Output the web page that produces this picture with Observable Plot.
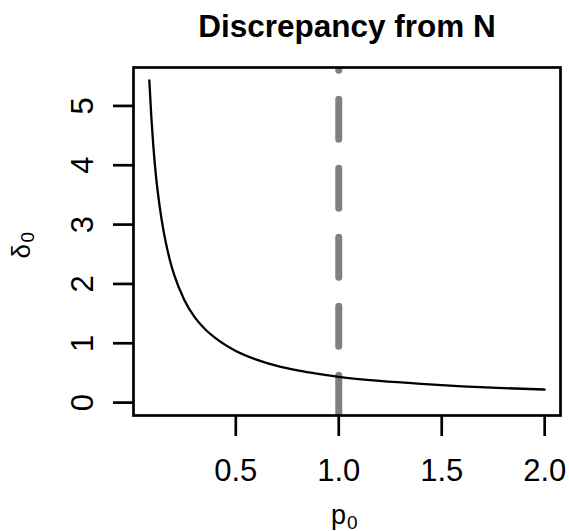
<!DOCTYPE html>
<html>
<head>
<meta charset="utf-8">
<script src="https://cdn.jsdelivr.net/npm/d3@7"></script>
<script src="https://cdn.jsdelivr.net/npm/@observablehq/plot@0.6"></script>
<style>
  html, body { margin: 0; padding: 0; background: #fff; }
</style>
</head>
<body>
<div id="chart"></div>
<script>
// Data
const p0 = [0.08, 0.09, 0.10, 0.11, 0.12, 0.14, 0.16, 0.18, 0.20, 0.25, 0.30, 0.35, 0.40,
            0.50, 0.60, 0.70, 0.80, 0.90, 1.00, 1.20, 1.40, 1.60, 1.80, 2.00];
const delta0 = [5.43, 4.80, 4.30, 3.90, 3.58, 3.08, 2.70, 2.40, 2.16, 1.73, 1.44, 1.24, 1.09,
                0.87, 0.725, 0.62, 0.545, 0.485, 0.435, 0.365, 0.315, 0.275, 0.245, 0.22];
const refLine = [1.0];
const xTicks = [0.5, 1.0, 1.5, 2.0];
const xTickLabels = ["0.5", "1.0", "1.5", "2.0"];
const yTicks = [0, 1, 2, 3, 4, 5];
const yTickLabels = ["0", "1", "2", "3", "4", "5"];
const title = "Discrepancy from N";
const xLabelMain = "p", xLabelSub = "0";
const yLabelMain = "δ", yLabelSub = "0";

const curve = p0.map((x, i) => ({x, y: delta0[i]}));
const xt = xTicks.map((v, i) => ({v, s: xTickLabels[i]}));
const yt = yTicks.map((v, i) => ({v, s: yTickLabels[i]}));

const font = "'Liberation Sans', Arial, Helvetica, sans-serif";

const chart = Plot.plot({
  width: 569,
  height: 531,
  marginLeft: 133,
  marginRight: 9,
  marginTop: 67,
  marginBottom: 116,
  style: {fontFamily: font, background: "#fff", color: "#000"},
  x: {domain: [0.0032, 2.0768], label: null},
  y: {domain: [-0.2172, 5.6472], label: null},
  marks: [
    Plot.ruleX(refLine, {
      x: d => d, stroke: "#808080", strokeWidth: 7,
      strokeDasharray: "40,29", strokeDashoffset: 36.8, strokeLinecap: "round", clip: true
    }),
    Plot.line(curve, {x: "x", y: "y", stroke: "#000", strokeWidth: 2.3, curve: "monotone-x"}),
    Plot.frame({stroke: "#000", strokeWidth: 2.7}),
    Plot.axisX({ticks: xTicks, tickSize: 21, tickFormat: () => "", strokeWidth: 2.7, stroke: "#000", label: null}),
    Plot.axisY({ticks: yTicks, tickSize: 20, tickFormat: () => "", strokeWidth: 2.7, stroke: "#000", label: null}),
    Plot.text(xt, {x: "v", text: "s", frameAnchor: "bottom", dy: 65, lineAnchor: "bottom", fontSize: 31, fill: "#000"}),
    Plot.text(yt, {y: "v", text: "s", frameAnchor: "left", dx: -41, rotate: -90, lineAnchor: "bottom", textAnchor: "middle", fontSize: 31, fill: "#000"}),
    Plot.text([title], {text: d => d, frameAnchor: "top", dy: -31, lineAnchor: "bottom", fontSize: 31.5, fontWeight: "bold", fill: "#000"}),
    Plot.text([xLabelMain], {text: d => d, frameAnchor: "bottom", dx: -16, dy: 108, textAnchor: "start", lineAnchor: "bottom", fontSize: 27, fill: "#000"}),
    Plot.text([xLabelSub], {text: d => d, frameAnchor: "bottom", dx: 0, dy: 113, textAnchor: "start", lineAnchor: "bottom", fontSize: 19, fill: "#000"}),
    Plot.text([yLabelMain], {text: d => d, frameAnchor: "left", dx: -104, dy: 17, rotate: -90, textAnchor: "start", lineAnchor: "bottom", fontSize: 26, fill: "#000"}),
    Plot.text([yLabelSub], {text: d => d, frameAnchor: "left", dx: -100, dy: 1, rotate: -90, textAnchor: "start", lineAnchor: "bottom", fontSize: 19, fill: "#000"})
  ]
});
document.getElementById("chart").appendChild(chart);
</script>
</body>
</html>
